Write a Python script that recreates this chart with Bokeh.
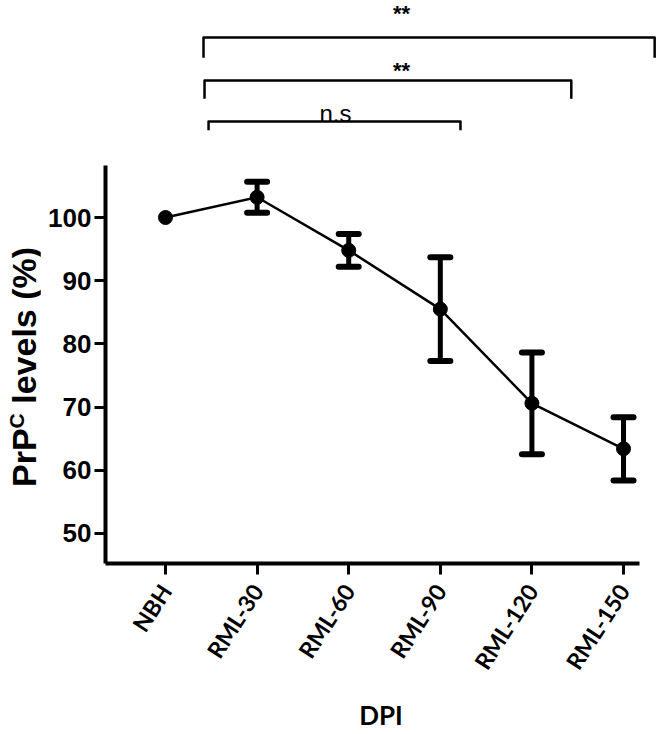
import math
from bokeh.plotting import figure
from bokeh.layouts import row
from bokeh.models import Range1d, FixedTicker, ColumnDataSource, Whisker, TeeHead, Div
from bokeh.embed import file_html
from bokeh.resources import INLINE
from bokeh.core.properties import value

# ---- data -------------------------------------------------------------
groups = ["NBH", "RML-30", "RML-60", "RML-90", "RML-120", "RML-150"]
means = [100.0, 103.2, 94.8, 85.5, 70.6, 63.4]
sems = [0.0, 2.45, 2.6, 8.2, 8.05, 5.0]
y_ticks = [50, 60, 70, 80, 90, 100]

# significance brackets (x in category-index units, y in % units)
br_x0 = [0.415, 0.426, 0.47]
br_x1 = [5.34, 4.43, 3.22]
br_y = [128.5, 121.7, 115.2]
br_leg = [125.3, 118.8, 113.8]
br_label = ["**", "**", "n.s"]
br_label_x = [2.576, 2.576, 1.856]
br_label_y = [132.36, 123.2, 114.3]

# ---- main figure ------------------------------------------------------
X0, X1 = -0.655, 5.36
Y0, Y1 = 45.25, 134.34
p = figure(width=617, height=734, output_backend="svg", toolbar_location=None,
           x_range=Range1d(X0, X1), y_range=Range1d(Y0, Y1),
           min_border_left=65, min_border_right=1, min_border_top=0,
           min_border_bottom=171, title=None)
p.outline_line_color = None
p.xgrid.visible = False
p.ygrid.visible = False

xs = list(range(len(groups)))

# y axis
ya = p.yaxis[0]
ya.ticker = FixedTicker(ticks=y_ticks, minor_ticks=[])
ya.bounds = (Y0, 108.2)
ya.axis_line_width = 4
ya.major_tick_line_width = 3
ya.major_tick_out = 11
ya.major_tick_in = 0
ya.minor_tick_line_color = None
ya.major_label_text_font = "Liberation Sans"
ya.major_label_text_font_style = "bold"
ya.major_label_text_font_size = "26px"
ya.major_label_text_color = "black"
ya.major_label_standoff = 3

# x axis
xa = p.xaxis[0]
xa.ticker = FixedTicker(ticks=xs, minor_ticks=[])
xa.major_label_overrides = {i: g for i, g in enumerate(groups)}
xa.bounds = (X0, 5.175)
xa.axis_line_width = 4
xa.major_tick_line_width = 3
xa.major_tick_out = 11
xa.major_tick_in = 0
xa.minor_tick_line_color = None
xa.major_label_orientation = math.radians(57)
xa.major_label_text_font = "Lato"
xa.major_label_text_font_style = "bold"
xa.major_label_text_font_size = "23px"
xa.major_label_text_color = "black"
xa.major_label_standoff = 12
xa.axis_label = "DPI"
xa.axis_label_text_font = "Lato"
xa.axis_label_text_font_style = "bold"
xa.axis_label_text_font_size = "26px"
xa.axis_label_text_color = "black"
xa.axis_label_standoff = 14

# error bars
eb = [(x, m + s, m - s) for x, m, s in zip(xs, means, sems) if s > 0]
src_err = ColumnDataSource(dict(x=[e[0] for e in eb], upper=[e[1] for e in eb],
                                lower=[e[2] for e in eb]))
w = Whisker(base="x", upper="upper", lower="lower", source=src_err,
            line_width=5, line_color="black",
            upper_head=TeeHead(size=20, line_width=6, line_color="black", line_cap="round"),
            lower_head=TeeHead(size=20, line_width=6, line_color="black", line_cap="round"))
p.add_layout(w)

# mean line + markers
p.line(xs, means, line_color="black", line_width=2.5)
p.scatter(xs, means, size=14, marker="circle", fill_color="black", line_color="black")

# significance brackets
p.multi_line(xs=[[a, a, b, b] for a, b in zip(br_x0, br_x1)],
             ys=[[l, y, y, l] for y, l in zip(br_y, br_leg)],
             line_color="black", line_width=2.5, line_join="round")
p.text(x=br_label_x[:2], y=br_label_y[:2], text=br_label[:2],
       text_font=value("Liberation Sans"), text_font_style="bold",
       text_font_size="22px", text_align="center", text_baseline="middle",
       text_color="black")
p.text(x=br_label_x[2:], y=br_label_y[2:], text=br_label[2:],
       text_font=value("Liberation Sans"), text_font_size="24px",
       text_align="center", text_baseline="bottom", text_color="black")

# ---- y-axis title (PrP^C levels (%)), rotated HTML text -----------------
LW, H = 40, 734
ylab_html = (
    f'<div style="position:relative;width:{LW}px;height:{H}px;">'
    '<div style="position:absolute;left:7px;top:487px;transform-origin:0 0;'
    'transform:rotate(-90deg);white-space:nowrap;font-family:\'Liberation Sans\',Arial,sans-serif;'
    'font-weight:bold;font-size:34px;line-height:34px;color:black;">'
    'PrP<span style="font-size:21px;line-height:21px;position:relative;top:-12px;">C</span>'
    ' levels (%)</div></div>'
)
ydiv = Div(text=ylab_html, width=LW, height=H, margin=0)

layout = row(ydiv, p, spacing=0)
open("out.html", "w").write(file_html(layout, INLINE))
